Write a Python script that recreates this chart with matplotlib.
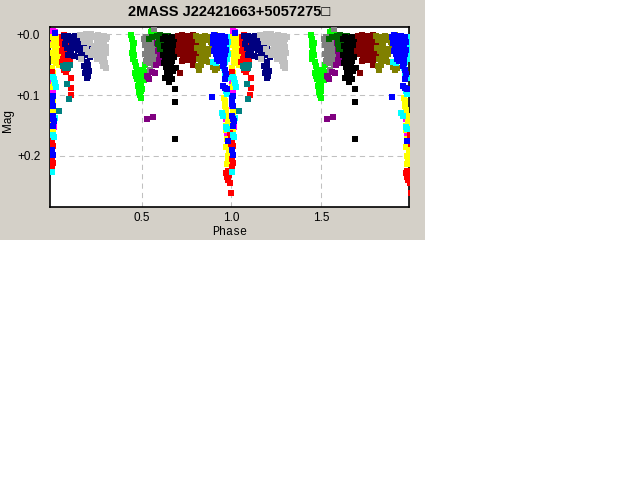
import matplotlib
matplotlib.use("Agg")
import matplotlib.pyplot as plt
from matplotlib.patches import Rectangle

# Light curve points (phase 0..1, magnitude offset), one list per data set / colour
MAGENTA = [(0.008, -0.006), (0.012, 0.001), (0.018, -0.004), (0.022, 0.004), (0.015, 0.010),
           (0.010, 0.016), (0.025, 0.012), (0.030, 0.021), (0.034, 0.029), (0.028, 0.037),
           (0.003, 0.078), (0.010, 0.084), (0.006, 0.092), (0.002, 0.118), (0.008, 0.124),
           (0.004, 0.148), (0.012, 0.152), (0.002, 0.076), (0.006, 0.100),
           (0.966, 0.131), (0.974, 0.136), (0.982, 0.134), (0.976, 0.163), (0.984, 0.168),
           (0.990, 0.165), (0.994, 0.179), (0.998, 0.183), (0.972, 0.140), (0.978, 0.160)]

YELLOW = [(0.005, 0.005), (0.012, 0.008), (0.020, 0.004), (0.030, 0.010), (0.040, 0.006),
          (0.050, 0.012), (0.008, 0.018), (0.018, 0.021), (0.028, 0.024), (0.038, 0.018),
          (0.048, 0.026), (0.006, 0.030), (0.015, 0.034), (0.025, 0.038), (0.035, 0.032),
          (0.045, 0.040), (0.012, 0.044), (0.022, 0.048), (0.032, 0.046), (0.040, 0.051),
          (0.055, 0.035), (0.004, 0.056), (0.010, 0.063), (0.006, 0.070), (0.012, 0.079),
          (0.003, 0.086), (0.005, 0.108), (0.008, 0.127), (0.004, 0.146), (0.010, 0.155),
          (0.960, 0.104), (0.965, 0.118), (0.970, 0.124), (0.975, 0.134), (0.980, 0.145),
          (0.985, 0.152), (0.990, 0.140), (0.975, 0.172), (0.980, 0.182), (0.985, 0.192),
          (0.978, 0.200), (0.982, 0.208), (0.990, 0.198), (0.972, 0.158), (0.968, 0.185),
          (0.976, 0.214), (0.970, 0.150), (0.962, 0.110)]

RED = [(0.060, 0.004), (0.068, 0.001), (0.076, 0.008), (0.085, 0.004), (0.095, 0.010),
       (0.058, 0.015), (0.066, 0.020), (0.074, 0.016), (0.082, 0.022), (0.090, 0.018),
       (0.060, 0.028), (0.068, 0.032), (0.076, 0.026), (0.085, 0.034), (0.095, 0.030),
       (0.062, 0.040), (0.070, 0.044), (0.080, 0.040), (0.090, 0.047), (0.100, 0.042),
       (0.075, 0.052), (0.088, 0.057), (0.055, 0.045), (0.070, 0.058), (0.080, 0.062),
       (0.108, 0.072), (0.106, 0.089), (0.105, 0.099), (0.004, 0.062),
       (0.992, 0.162), (0.995, 0.172), (0.998, 0.180), (0.970, 0.228), (0.975, 0.235),
       (0.980, 0.240), (0.985, 0.232), (0.990, 0.244), (0.978, 0.225), (0.997, 0.261),
       (0.002, 0.176), (0.006, 0.184), (0.003, 0.205), (0.008, 0.212), (0.004, 0.218)]

TEAL = [(0.063, 0.052), (0.072, 0.056), (0.082, 0.050), (0.092, 0.055), (0.100, 0.051),
        (0.085, 0.081), (0.094, 0.106), (0.043, 0.126)]

NAVY = [(0.070, 0.002), (0.080, 0.008), (0.090, 0.002), (0.100, 0.010), (0.110, 0.004),
        (0.120, 0.010), (0.130, 0.002), (0.140, 0.012), (0.150, 0.005), (0.160, 0.009),
        (0.170, 0.016), (0.180, 0.003), (0.190, 0.011), (0.200, 0.019), (0.210, 0.008),
        (0.075, 0.016), (0.085, 0.022), (0.100, 0.024), (0.115, 0.018), (0.130, 0.022),
        (0.145, 0.026), (0.160, 0.020), (0.175, 0.028), (0.190, 0.034), (0.205, 0.027),
        (0.170, 0.040), (0.195, 0.045), (0.180, 0.052), (0.200, 0.050), (0.190, 0.058),
        (0.210, 0.061), (0.110, 0.032), (0.090, 0.034), (0.195, 0.072), (0.150, 0.037),
        (0.215, 0.038), (0.125, 0.036), (0.185, 0.064), (0.205, 0.068), (0.165, 0.033)]

SILVER = [(0.160, 0.001), (0.175, 0.006), (0.190, -0.001), (0.200, 0.004), (0.210, 0.001),
          (0.220, -0.001), (0.230, 0.005), (0.240, 0.002), (0.250, 0.008), (0.260, 0.001),
          (0.270, 0.004), (0.280, 0.010), (0.290, 0.002), (0.300, 0.008), (0.310, 0.004),
          (0.250, 0.016), (0.270, 0.018), (0.290, 0.015), (0.260, 0.024), (0.280, 0.027),
          (0.300, 0.021), (0.245, 0.031), (0.270, 0.034), (0.290, 0.038), (0.305, 0.030),
          (0.280, 0.044), (0.295, 0.047), (0.235, 0.019), (0.190, 0.024), (0.205, 0.029),
          (0.215, 0.015), (0.220, 0.034), (0.180, 0.012), (0.285, 0.052), (0.300, 0.055),
          (0.230, 0.026), (0.255, 0.040), (0.165, 0.040)]

LIME = [(0.440, 0.001), (0.445, 0.008), (0.450, 0.018), (0.455, 0.024), (0.445, 0.030),
        (0.460, 0.034), (0.450, 0.040), (0.465, 0.046), (0.470, 0.052), (0.475, 0.058),
        (0.465, 0.064), (0.480, 0.066), (0.490, 0.070), (0.475, 0.074), (0.485, 0.078),
        (0.495, 0.080), (0.480, 0.085), (0.490, 0.088), (0.500, 0.090), (0.485, 0.095),
        (0.490, 0.100), (0.495, 0.105), (0.510, 0.058), (0.520, 0.050), (0.530, 0.062),
        (0.505, 0.066), (0.550, -0.004), (0.560, -0.006), (0.570, -0.003), (0.515, 0.075),
        (0.525, 0.072), (0.458, 0.015), (0.470, 0.068), (0.500, 0.075), (0.495, 0.094)]

GRAY = [(0.515, 0.008), (0.525, 0.004), (0.535, 0.010), (0.545, 0.006), (0.555, 0.012),
        (0.565, 0.005), (0.575, 0.010), (0.585, 0.014), (0.595, 0.020), (0.520, 0.018),
        (0.530, 0.022), (0.540, 0.016), (0.550, 0.024), (0.560, 0.020), (0.570, 0.026),
        (0.580, 0.030), (0.520, 0.032), (0.530, 0.036), (0.545, 0.034), (0.560, 0.038),
        (0.575, 0.040), (0.525, 0.044), (0.540, 0.048), (0.555, 0.046), (0.570, 0.050),
        (0.590, 0.046), (0.545, 0.058), (0.570, -0.009), (0.600, 0.030)]

PURPLE = [(0.585, 0.014), (0.595, 0.020), (0.605, 0.016), (0.590, 0.028), (0.600, 0.034),
          (0.610, 0.030), (0.595, 0.042), (0.605, 0.048), (0.615, 0.040), (0.530, 0.068),
          (0.540, 0.074), (0.560, 0.062), (0.575, 0.064), (0.535, 0.070), (0.531, 0.140),
          (0.564, 0.136), (0.580, 0.050)]

GREEN = [(0.585, 0.002), (0.595, 0.008), (0.605, 0.001), (0.615, 0.006), (0.625, 0.003),
         (0.635, 0.010), (0.645, 0.002), (0.655, 0.008), (0.665, 0.004), (0.590, 0.016),
         (0.610, 0.018), (0.630, 0.014), (0.650, 0.020), (0.660, 0.016), (0.620, 0.026),
         (0.640, 0.030), (0.655, 0.028), (0.600, 0.024), (0.540, 0.008), (0.560, 0.004),
         (0.665, 0.034)]

BLACK = [(0.620, 0.008), (0.630, 0.004), (0.640, 0.012), (0.650, 0.006), (0.660, 0.010),
         (0.670, 0.004), (0.680, 0.012), (0.690, 0.008), (0.625, 0.020), (0.635, 0.026),
         (0.645, 0.018), (0.655, 0.024), (0.665, 0.020), (0.675, 0.028), (0.685, 0.022),
         (0.620, 0.034), (0.630, 0.040), (0.640, 0.034), (0.650, 0.042), (0.660, 0.036),
         (0.670, 0.044), (0.680, 0.038), (0.625, 0.048), (0.635, 0.054), (0.645, 0.050),
         (0.655, 0.058), (0.665, 0.052), (0.675, 0.060), (0.640, 0.064), (0.650, 0.070),
         (0.660, 0.066), (0.630, 0.072), (0.670, 0.074), (0.655, 0.078), (0.690, 0.055),
         (0.685, 0.090), (0.685, 0.111), (0.685, 0.172)]

MAROON = [(0.705, 0.002), (0.715, 0.008), (0.725, 0.001), (0.735, 0.006), (0.745, 0.003),
          (0.755, 0.010), (0.765, 0.002), (0.775, 0.007), (0.785, 0.001), (0.795, 0.006),
          (0.805, 0.002), (0.815, 0.009), (0.825, 0.004), (0.835, 0.008), (0.710, 0.018),
          (0.720, 0.024), (0.730, 0.016), (0.740, 0.022), (0.750, 0.018), (0.760, 0.026),
          (0.770, 0.020), (0.780, 0.016), (0.790, 0.024), (0.800, 0.018), (0.810, 0.024),
          (0.820, 0.016), (0.830, 0.022), (0.715, 0.032), (0.730, 0.036), (0.745, 0.030),
          (0.760, 0.034), (0.775, 0.038), (0.790, 0.032), (0.805, 0.036), (0.725, 0.044),
          (0.755, 0.042), (0.785, 0.046), (0.713, 0.064), (0.785, 0.050), (0.700, 0.028)]

OLIVE = [(0.805, 0.002), (0.815, 0.010), (0.825, 0.004), (0.835, 0.012), (0.845, 0.006),
         (0.855, 0.002), (0.865, 0.010), (0.875, 0.004), (0.885, 0.012), (0.895, 0.006),
         (0.810, 0.022), (0.825, 0.028), (0.840, 0.020), (0.850, 0.030), (0.860, 0.024),
         (0.870, 0.032), (0.880, 0.026), (0.890, 0.020), (0.820, 0.040), (0.835, 0.036),
         (0.845, 0.044), (0.860, 0.040), (0.875, 0.046), (0.830, 0.050), (0.820, 0.058),
         (0.815, 0.052), (0.900, 0.054), (0.910, 0.058), (0.918, 0.056), (0.910, 0.001)]

CYAN = [(0.975, 0.004), (0.978, 0.012), (0.976, 0.022), (0.979, 0.032), (0.974, 0.040),
        (0.965, 0.045), (0.900, 0.046), (0.915, 0.048), (0.966, 0.089), (0.972, 0.094),
        (0.977, 0.098), (0.970, 0.152), (0.976, 0.155), (0.945, 0.130), (0.955, 0.134),
        (0.004, 0.135), (0.012, 0.140), (0.020, 0.137), (0.006, 0.165), (0.014, 0.169),
        (0.004, 0.226), (0.006, 0.070), (0.014, 0.074), (0.018, 0.080), (0.025, 0.086),
        (0.958, 0.056), (0.965, 0.064), (0.975, 0.072)]

BLUE = [(0.895, 0.004), (0.905, 0.001), (0.915, 0.006), (0.925, 0.002), (0.935, 0.008),
        (0.945, 0.003), (0.955, 0.010), (0.965, 0.005), (0.970, 0.012), (0.900, 0.014),
        (0.910, 0.018), (0.920, 0.012), (0.930, 0.020), (0.940, 0.016), (0.950, 0.022),
        (0.960, 0.018), (0.968, 0.026), (0.905, 0.028), (0.915, 0.032), (0.925, 0.026),
        (0.935, 0.034), (0.945, 0.030), (0.955, 0.036), (0.965, 0.032), (0.920, 0.040),
        (0.930, 0.044), (0.940, 0.038), (0.950, 0.042), (0.960, 0.040), (0.955, 0.052),
        (0.962, 0.058), (0.970, 0.066), (0.966, 0.074), (0.960, 0.048), (0.890, 0.103),
        (0.955, 0.085), (0.965, 0.088), (0.975, 0.090), (0.003, 0.114), (0.010, 0.118),
        (0.005, 0.134), (0.012, 0.142), (0.008, 0.150), (0.978, 0.176), (0.004, 0.190),
        (0.008, 0.198), (0.002, 0.104), (0.010, 0.102), (0.006, 0.140), (0.018, -0.002)]

SERIES = [
    (MAGENTA, "#ff00ff"), (YELLOW, "#ffff00"), (RED, "#ff0000"), (TEAL, "#008080"),
    (NAVY, "#000080"), (SILVER, "#c0c0c0"), (LIME, "#00ff00"), (GRAY, "#808080"),
    (PURPLE, "#800080"), (GREEN, "#006400"), (BLACK, "#000000"), (MAROON, "#800000"),
    (OLIVE, "#808000"), (CYAN, "#00ffff"), (BLUE, "#0000ff"),
]

TITLE = "2MASS J22421663+5057275\u25a1"

fig = plt.figure(figsize=(6.4, 4.8), dpi=100, facecolor="white")
# grey applet panel in the top-left corner, kept behind the axes
fig.patches.append(Rectangle((0, 0.5), 425 / 640, 0.5, transform=fig.transFigure,
                             facecolor="#d4d0c8", edgecolor="none", zorder=-10))

ax = fig.add_axes([50 / 640, 1 - 207 / 480, 359 / 640, 180 / 480])
ax.set_zorder(5)
ax.set_facecolor("white")

for pts, col in SERIES:
    ph = [p for p, m in pts]
    mg = [m for p, m in pts]
    # phase-folded curve shown twice
    ax.scatter(ph, mg, s=13, marker="s", color=col, linewidths=0, zorder=3)
    ax.scatter([p + 1 for p in ph], mg, s=13, marker="s", color=col, linewidths=0, zorder=3)

ax.set_xlim(-0.009, 1.987)
ax.set_ylim(0.284, -0.012)
ax.set_xticks([0.5, 1.0, 1.5])
ax.set_xticklabels(["0.5", "1.0", "1.5"])
ax.set_yticks([0.0, 0.1, 0.2])
ax.set_yticklabels(["+0.0", "+0.1", "+0.2"])
ax.tick_params(axis="x", length=0, labelsize=8.5, pad=3.5)
ax.tick_params(axis="y", length=0, labelsize=8.5, pad=7)
for lab in ax.get_xticklabels() + ax.get_yticklabels():
    lab.set_family("Liberation Sans")
ax.grid(True, color="#c0c0c0", linestyle=(0, (5, 4)), linewidth=0.75, zorder=1)
for sp in ax.spines.values():
    sp.set_color("black")
    sp.set_linewidth(1.2)

fig.text(229.5 / 640, 1 - 12.5 / 480, TITLE, ha="center", va="center",
         fontsize=10.5, fontweight="bold", family=["Liberation Sans", "DejaVu Sans"])
fig.text(8 / 640, 1 - 121 / 480, "Mag", rotation=90, ha="center", va="center",
         fontsize=8.5, family="Liberation Sans")
fig.text(230 / 640, 1 - 232 / 480, "Phase", ha="center", va="center",
         fontsize=8.5, family="Liberation Mono")

fig.savefig("out.png", dpi=100, facecolor="white")
